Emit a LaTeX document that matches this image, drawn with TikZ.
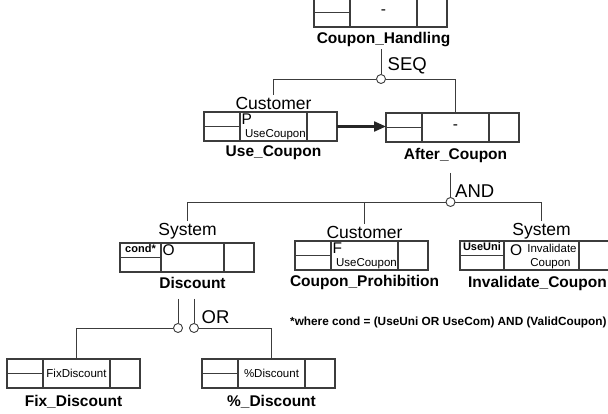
\documentclass[tikz,border=0pt]{standalone}
\usepackage{fontspec}
\setmainfont{Liberation Sans}
\usepackage{tikz}
\usetikzlibrary{arrows.meta,positioning}
\definecolor{linegray}{HTML}{3C3C3C}

\begin{document}
\begin{tikzpicture}[
      x=1pt, y=-1pt,
      every node/.style={font=\fontsize{15.5}{17}\selectfont},
      cell/.style={draw=linegray, line width=1.1pt, minimum height=29pt,
                   inner sep=0pt, outer sep=0pt},
      lcell/.style={cell, minimum width=36pt},
      mcell/.style={cell, minimum width=67pt},
      rcell/.style={cell, minimum width=30pt},
      div/.style={draw=linegray, line width=1.1pt},
      tname/.style={font=\fontsize{15.5}{17}\selectfont\bfseries, inner sep=1pt},
      actor/.style={font=\fontsize{17.5}{19}\selectfont, inner sep=2pt},
      opr/.style={font=\fontsize{15.5}{17}\selectfont, inner sep=1.5pt},
      ev/.style={font=\fontsize{11.5}{13}\selectfont, inner sep=1pt},
      cnd/.style={font=\fontsize{11}{12}\selectfont\bfseries, inner sep=1.5pt},
      gate/.style={font=\fontsize{18.5}{20}\selectfont, inner sep=1pt},
      junc/.style={circle, draw=linegray, line width=0.9pt, fill=white,
                   inner sep=0pt, minimum size=9pt},
      con/.style={draw=linegray, line width=0.9pt},
      ar/.style={-{Triangle[length=12pt, width=10pt]}, line width=2.2pt, draw=black!85}
    ]
    \path[use as bounding box, fill=white] (0,0) rectangle (608,414);

    % Coupon_Handling
    \node[lcell, anchor=north west] (ch-l) at (314,-2) {};
    \node[mcell, right=0pt of ch-l] (ch-m) {-};
    \node[rcell, right=0pt of ch-m] (ch-r) {};
    \node[tname, below=4pt of ch-m] (ch-n) {Coupon\_Handling};

    % Use_Coupon
    \node[lcell, anchor=north west] (uc-l) at (204,112) {};
    \node[mcell, right=0pt of uc-l] (uc-m) {};
    \node[rcell, right=0pt of uc-m] (uc-r) {};
    \node[actor, above=0pt of uc-m] (uc-a) {Customer};
    \node[tname, below=3pt of uc-m] (uc-n) {Use\_Coupon};
    \node[opr, anchor=north west] (uc-op) at (uc-m.north west) {P};
    \node[ev, anchor=south east] (uc-ev) at (uc-m.south east) {UseCoupon};

    % After_Coupon
    \node[lcell, anchor=north west] (ac-l) at (386,113) {};
    \node[mcell, right=0pt of ac-l] (ac-m) {-};
    \node[rcell, right=0pt of ac-m] (ac-r) {};
    \node[tname, below=5pt of ac-m] (ac-n) {After\_Coupon};

    % Discount
    \node[lcell, minimum width=41pt, anchor=north west] (di-l) at (120,243) {};
    \node[mcell, minimum width=63pt, right=0pt of di-l] (di-m) {};
    \node[rcell, right=0pt of di-m] (di-r) {};
    \node[actor, above=2pt of di-m, xshift=-5pt] (di-a) {System};
    \node[tname, below=4pt of di-m] (di-n) {Discount};
    \node[cnd, anchor=north] (di-c) at (di-l.north) {cond*};
    \node[opr, anchor=north west] (di-op) at (di-m.north west) {O};

    % Coupon_Prohibition
    \node[lcell, anchor=north west] (cp-l) at (295,241) {};
    \node[mcell, right=0pt of cp-l] (cp-m) {};
    \node[rcell, right=0pt of cp-m] (cp-r) {};
    \node[actor, above=0pt of cp-m] (cp-a) {Customer};
    \node[tname, below=4pt of cp-m] (cp-n) {Coupon\_Prohibition};
    \node[opr, anchor=north west] (cp-op) at (cp-m.north west) {F};
    \node[ev, anchor=south east] (cp-ev) at (cp-m.south east) {UseCoupon};

    % Invalidate_Coupon
    \node[lcell, minimum width=44pt, anchor=north west] (ic-l) at (460,241) {};
    \node[mcell, minimum width=75pt, right=0pt of ic-l] (ic-m) {};
    \node[rcell, right=0pt of ic-m] (ic-r) {};
    \node[actor, above=0pt of ic-m] (ic-a) {System};
    \node[tname, below=5pt of ic-m, xshift=-4pt] (ic-n) {Invalidate\_Coupon};
    \node[cnd, anchor=north] (ic-c) at (ic-l.north) {UseUni};
    \node[opr, anchor=west, inner sep=0pt] (ic-op) at ([xshift=6pt, yshift=5pt]ic-m.west) {O};
    \node[ev, anchor=base, inner sep=0pt] (ic-ev) at ([xshift=10.5pt, yshift=2.5pt]ic-m.center) {Invalidate};
    \node[ev, anchor=base, inner sep=0pt] (ic-ev2) at ([xshift=9pt, yshift=-11.5pt]ic-m.center) {Coupon};

    % Fix_Discount
    \node[lcell, anchor=north west] (fd-l) at (7,359) {};
    \node[mcell, ev, right=0pt of fd-l] (fd-m) {FixDiscount};
    \node[rcell, right=0pt of fd-m] (fd-r) {};
    \node[tname, below=6pt of fd-m, xshift=-3pt] (fd-n) {Fix\_Discount};

    % %_Discount
    \node[lcell, anchor=north west] (pd-l) at (202,359) {};
    \node[mcell, ev, right=0pt of pd-l] (pd-m) {\%Discount};
    \node[rcell, right=0pt of pd-m] (pd-r) {};
    \node[tname, below=6pt of pd-m] (pd-n) {\%\_Discount};

    \foreach \t in {ch,uc,ac,di,cp,ic,fd,pd}
      \draw[div] (\t-l.west) -- (\t-l.east);

    % junctions
    \node[junc] (seq) at (381,79) {};
    \node[gate, anchor=south west, xshift=2pt] (seq-t) at (seq.north east) {SEQ};
    \node[junc] (andg) at (450.5,202) {};
    \node[gate, anchor=south west] (andg-t) at (andg.north east) {AND};
    \node[junc] (orl) at (178,328) {};
    \node[junc] (orr) at (194,328) {};
    \node[gate, anchor=south west, xshift=3pt] (or-t) at (orr.north east) {OR};

    \node[font=\fontsize{11.8}{13}\selectfont\bfseries, anchor=west, inner sep=0pt] (note)
      at (290,322) {*where cond = (UseUni OR UseCom) AND (ValidCoupon)};

    \draw[con, shorten <=1.5pt] (seq |- ch-n.south) -- (seq);
    \draw[con] (seq) -| (uc-a.north);
    \draw[con] (seq) -| (ac-m.north);
    \draw[ar] (uc-r.east) -- (uc-r.east -| ac-l.west);
    \draw[con, shorten <=9pt] (andg |- ac-n.south) -- (andg);
    \draw[con] (andg) -| (di-a.north);
    \draw[con] (andg) -| (cp-a.north);
    \draw[con] (andg) -| (ic-a.north);
    \draw[con, shorten <=9pt] (orl |- di-n.south) -- (orl);
    \draw[con, shorten <=9pt] (orr |- di-n.south) -- (orr);
    \draw[con] (orl) -| (fd-m.north);
    \draw[con] (orr) -| (pd-m.north);
  \end{tikzpicture}
\end{document}
